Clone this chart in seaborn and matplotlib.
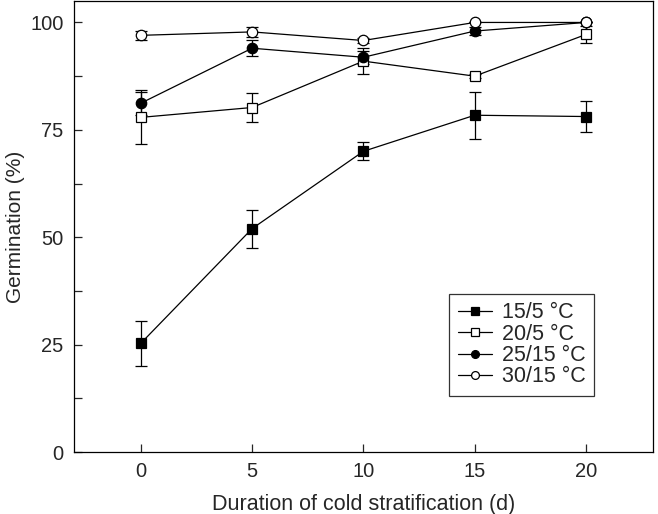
import numpy as np
import pandas as pd
import seaborn as sns
import matplotlib.pyplot as plt

days = [0, 5, 10, 15, 20]
labels = ["15/5 °C", "20/5 °C", "25/15 °C", "30/15 °C"]

g_15_5 = [25.3, 52.0, 70.0, 78.4, 78.1]
e_15_5 = [5.3, 4.4, 2.1, 5.5, 3.6]
g_20_5 = [77.9, 80.2, 91.0, 87.5, 97.2]
e_20_5 = [6.3, 3.3, 3.0, 0.5, 2.0]
g_25_15 = [81.2, 94.0, 91.9, 98.0, 100.0]
e_25_15 = [2.7, 1.9, 1.5, 1.0, 0.0]
g_30_15 = [97.0, 97.8, 95.8, 100.0, 100.0]
e_30_15 = [1.0, 1.2, 0.5, 0.0, 0.0]

values = [g_15_5, g_20_5, g_25_15, g_30_15]
errors = [e_15_5, e_20_5, e_25_15, e_30_15]
markers = ["s", "s", "o", "o"]
faces = ["black", "white", "black", "white"]

sns.set_style("ticks")
plt.rcParams["font.family"] = ["Liberation Sans", "DejaVu Sans"]

fig = plt.figure(figsize=(6.58, 5.14), dpi=100)
ax = fig.add_axes([0.1125, 0.1206, 0.8795, 0.8775])

for lab, v, e, m, fc in zip(labels, values, errors, markers, faces):
    df = pd.DataFrame({"day": days, "g": v})
    ax.errorbar(days, v, yerr=e, fmt="none", ecolor="black",
                elinewidth=0.9, capsize=4, capthick=0.9, zorder=2)
    sns.lineplot(data=df, x="day", y="g", ax=ax, color="black",
                 linewidth=0.9, marker=m, markersize=7.5,
                 markerfacecolor=fc, markeredgecolor="black",
                 markeredgewidth=0.9, label=lab, zorder=3)

ax.set_xlim(-3, 23)
ax.set_ylim(0, 105)
ax.set_xticks(days)
ax.set_yticks([0, 25, 50, 75, 100])
ax.set_yticks([12.5, 37.5, 62.5, 87.5], minor=True)
ax.tick_params(direction="in", length=6, width=0.9, labelsize=14.5, pad=7.5)
ax.tick_params(which="minor", direction="in", length=6, width=0.9)
for s in ax.spines.values():
    s.set_linewidth(0.9)
    s.set_color("black")

ax.set_xlabel("Duration of cold stratification (d)", fontsize=15.5, labelpad=9)
ax.set_ylabel("Germination (%)", fontsize=15, labelpad=4)

leg = ax.legend(loc="lower left", bbox_to_anchor=(0.648, 0.124),
                fontsize=15.5, frameon=True, fancybox=False,
                markerscale=0.75,
                handlelength=1.6, handletextpad=0.45, borderpad=0.4,
                labelspacing=0.02, borderaxespad=0)
leg.get_frame().set_edgecolor("black")
leg.get_frame().set_linewidth(0.9)

fig.savefig("out.png", dpi=100)
